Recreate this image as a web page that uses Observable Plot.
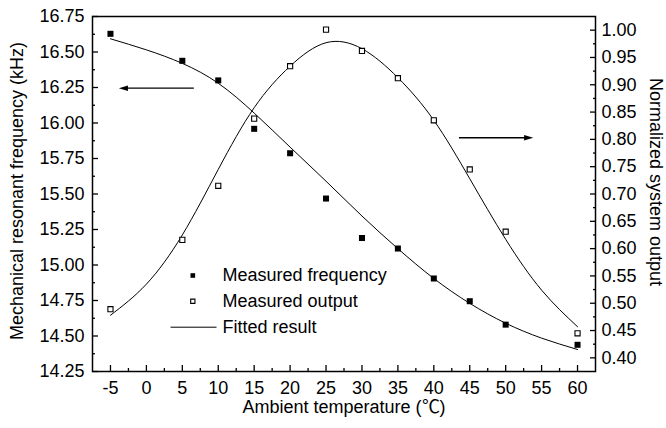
<!DOCTYPE html>
<html><head><meta charset="utf-8">
<script src="https://cdn.jsdelivr.net/npm/d3@7"></script>
<script src="https://cdn.jsdelivr.net/npm/@observablehq/plot@0.6"></script>
<style>
@font-face { font-family: "DegC"; src: local("Noto Sans CJK SC"), local("NotoSansCJKsc-Regular"), local("Noto Sans CJK SC Regular"); unicode-range: U+2103; }
body{margin:0;background:#fff}
#chart{position:absolute;left:0;top:0}
</style>
</head><body><div id="chart"></div>
<script>
// ---- data ----
const temps = [-5, 5, 10, 15, 20, 25, 30, 35, 40, 45, 50, 60];
const measuredFrequency = [16.628, 16.438, 16.30, 15.959, 15.787, 15.468, 15.19, 15.116, 14.905, 14.745, 14.58, 14.438];
const measuredOutput = [0.489, 0.616, 0.715, 0.838, 0.934, 1.001, 0.962, 0.912, 0.835, 0.745, 0.631, 0.445];

const fitTemps = [-5, 0, 5, 10, 15, 20, 25, 30, 35, 40, 45, 50, 55, 60];
const fittedFrequency = [16.593, 16.515, 16.42, 16.28, 16.07, 15.83, 15.59, 15.345, 15.115, 14.905, 14.73, 14.59, 14.485, 14.405];
const fittedOutput = [0.478, 0.535, 0.625, 0.745, 0.858, 0.934, 0.977, 0.966, 0.913, 0.835, 0.728, 0.617, 0.524, 0.457];

const xTicks = [-5, 0, 5, 10, 15, 20, 25, 30, 35, 40, 45, 50, 55, 60];
const xMinorTicks = [-2.5, 2.5, 7.5, 12.5, 17.5, 22.5, 27.5, 32.5, 37.5, 42.5, 47.5, 52.5, 57.5];
const leftTicks = [14.25, 14.5, 14.75, 15.0, 15.25, 15.5, 15.75, 16.0, 16.25, 16.5, 16.75];
const leftMinorTicks = [14.375, 14.625, 14.875, 15.125, 15.375, 15.625, 15.875, 16.125, 16.375, 16.625];
const rightTicks = [0.40, 0.45, 0.50, 0.55, 0.60, 0.65, 0.70, 0.75, 0.80, 0.85, 0.90, 0.95, 1.00];
const rightMinorTicks = [0.425, 0.475, 0.525, 0.575, 0.625, 0.675, 0.725, 0.775, 0.825, 0.875, 0.925, 0.975];

const xDomain = [-7.5, 62.5];
const freqDomain = [14.25, 16.75];
const outDomain = [0.375, 1.025];

// annotation arrows (x from tail to head, y in frequency units)
const arrows = [
  {x1: 6.6, x2: -3.2, y: 16.245},
  {x1: 43.5, x2: 53.2, y: 15.896}
];
// legend entries
const legendLabels = ["Measured frequency", "Measured output", "Fitted result"];
const legendY = [14.926, 14.745, 14.562];

// ---- helpers ----
const toLeft = v => freqDomain[0] + (v - outDomain[0]) / (outDomain[1] - outDomain[0]) * (freqDomain[1] - freqDomain[0]);
const fromLeft = v => outDomain[0] + (v - freqDomain[0]) / (freqDomain[1] - freqDomain[0]) * (outDomain[1] - outDomain[0]);

const freqPts = temps.map((t, i) => ({x: t, y: measuredFrequency[i]}));
const outPts = temps.map((t, i) => ({x: t, y: toLeft(measuredOutput[i])}));
const freqFit = fitTemps.map((t, i) => ({x: t, y: fittedFrequency[i]}));
const outFit = fitTemps.map((t, i) => ({x: t, y: toLeft(fittedOutput[i])}));

const headRight = {
  draw(context, size) {
    const r = Math.sqrt(size / Math.PI);
    context.moveTo(r * 1.3, 0);
    context.lineTo(-r * 1.3, -r * 0.8);
    context.lineTo(-r * 1.3, r * 0.8);
    context.closePath();
  }
};

const font = "'Liberation Sans', Arial, Helvetica, sans-serif";
const titleFont = "DegC, 'Liberation Sans', sans-serif";
const legendSymX = 6.46, legendTextX = 10.6, legendLineX = [3.36, 9.76];

const chart = Plot.plot({
  width: 666,
  height: 428,
  marginLeft: 92,
  marginRight: 71,
  marginTop: 16,
  marginBottom: 57,
  style: {fontFamily: font, fontSize: "18px", color: "black", background: "white"},
  x: {domain: xDomain},
  y: {domain: freqDomain},
  marks: [
    // axes: major ticks inward with labels
    Plot.axisX({ticks: xTicks, tickSize: -6, tickPadding: 16, strokeWidth: 1.3, label: null, tickFormat: d => String(d), fontSize: 18}),
    Plot.axisX({ticks: xMinorTicks, tickSize: -3, strokeWidth: 1.3, label: null, tickFormat: () => ""}),
    Plot.axisY({ticks: leftTicks, tickSize: -6, tickPadding: 14, strokeWidth: 1.3, label: null, tickFormat: d => d.toFixed(2), fontSize: 18}),
    Plot.axisY({ticks: leftMinorTicks, tickSize: -3, strokeWidth: 1.3, label: null, tickFormat: () => ""}),
    Plot.axisY({anchor: "right", ticks: rightTicks.map(toLeft), tickSize: -6, tickPadding: 12, strokeWidth: 1.3, label: null, tickFormat: d => fromLeft(d).toFixed(2), fontSize: 18}),
    Plot.axisY({anchor: "right", ticks: rightMinorTicks.map(toLeft), tickSize: -3, strokeWidth: 1.3, label: null, tickFormat: () => ""}),
    Plot.frame({stroke: "black", strokeWidth: 1.5}),
    // fitted curves
    Plot.line(freqFit, {x: "x", y: "y", curve: "natural", stroke: "black", strokeWidth: 1}),
    Plot.line(outFit, {x: "x", y: "y", curve: "natural", stroke: "black", strokeWidth: 1}),
    // measured points
    Plot.dot(freqPts, {x: "x", y: "y", symbol: "square", r: 3.4, fill: "black", stroke: "none"}),
    Plot.dot(outPts, {x: "x", y: "y", symbol: "square", r: 2.9, fill: "white", stroke: "black", strokeWidth: 1.1}),
    // arrows
    Plot.link(arrows, {x1: "x1", x2: "x2", y1: "y", y2: "y", stroke: "black", strokeWidth: 1.3}),
    Plot.dot(arrows, {x: "x2", y: "y", symbol: headRight, r: 3.5, fill: "black", stroke: "none", rotate: d => d.x2 < d.x1 ? 180 : 0}),
    // legend
    Plot.dot([0], {x: () => legendSymX, y: () => legendY[0], symbol: "square", r: 2.6, fill: "black", stroke: "none"}),
    Plot.dot([0], {x: () => legendSymX, y: () => legendY[1], symbol: "square", r: 2.4, fill: "white", stroke: "black", strokeWidth: 1.1}),
    Plot.link([0], {x1: () => legendLineX[0], x2: () => legendLineX[1], y1: () => legendY[2], y2: () => legendY[2], stroke: "black", strokeWidth: 1}),
    Plot.text(legendLabels, {x: () => legendTextX, y: (d, i) => legendY[i], text: d => d, textAnchor: "start", fontSize: 18, fill: "black"}),
    // axis titles
    Plot.text(["Ambient temperature (\u2103)"], {frameAnchor: "bottom", dy: 41, text: d => d, textAnchor: "middle", fontSize: 18, fontFamily: titleFont, fill: "black"}),
    Plot.text(["Mechanical resonant frequency (kHz)"], {frameAnchor: "left", dx: -75, dy: -3, rotate: -90, text: d => d, textAnchor: "middle", fontSize: 18, fill: "black"}),
    Plot.text(["Normalized system output"], {frameAnchor: "right", dx: 60, dy: -12, rotate: 90, text: d => d, textAnchor: "middle", fontSize: 18, fill: "black"})
  ]
});
document.getElementById("chart").appendChild(chart);
</script>
</body></html>
